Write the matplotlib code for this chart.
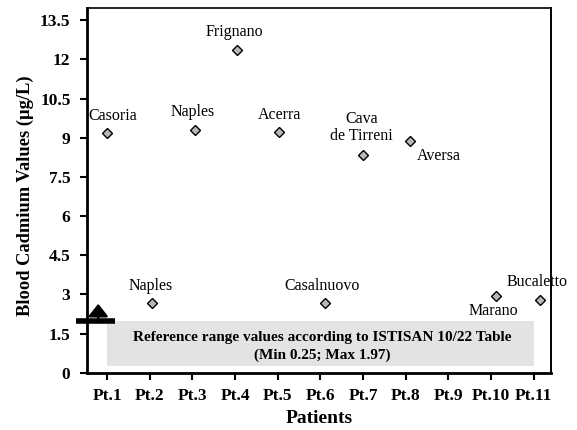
import matplotlib
matplotlib.use("Agg")
from matplotlib import pyplot as plt
from matplotlib.patches import Rectangle

plt.rcParams["font.family"] = ["Liberation Serif", "DejaVu Serif"]

# data
patients = ["Pt.1", "Pt.2", "Pt.3", "Pt.4", "Pt.5", "Pt.6", "Pt.7", "Pt.8", "Pt.9", "Pt.10", "Pt.11"]
point_x = [1.0, 2.05, 3.07, 4.05, 5.04, 6.1, 7.0, 8.1, 10.13, 11.15]
cadmium = [9.19, 2.67, 9.29, 12.36, 9.22, 2.67, 8.34, 8.87, 2.95, 2.80]
towns = ["Casoria", "Naples", "Naples", "Frignano", "Acerra", "Casalnuovo",
         "Cava\nde Tirreni", "Aversa", "Marano", "Bucaletto"]
# label offsets in points relative to each marker
label_offsets = [(4, 12), (-1, 12), (-2, 13), (-2, 13), (0, 12), (-2, 12),
                 (-1, 20), (21, -11), (-2, -11), (-2, 13)]
ref_min, ref_max = 0.25, 1.97
yticks = [0, 1.5, 3, 4.5, 6, 7.5, 9, 10.5, 12, 13.5]

fig = plt.figure(figsize=(5.77, 4.30), dpi=100)
ax = fig.add_axes([0.151, 0.133, 0.804, 0.848])

# reference range band
ax.add_patch(Rectangle((1, ref_min), 10, ref_max - ref_min, facecolor="#e3e3e3",
                       edgecolor="none", zorder=1))
ax.text(6.05, (ref_min + ref_max) / 2 - 0.1,
        "Reference range values according to ISTISAN 10/22 Table\n(Min 0.25; Max 1.97)",
        ha="center", va="center", fontsize=11, fontweight="bold", linespacing=1.5, zorder=2)

ax.plot(point_x, cadmium, linestyle="none", marker="D", markersize=5.5,
        markerfacecolor="#b8b8b8", markeredgecolor="black", markeredgewidth=1.0, zorder=3)

for x, y, name, (dx, dy) in zip(point_x, cadmium, towns, label_offsets):
    ax.annotate(name, (x, y), xytext=(dx, dy), textcoords="offset points",
                ha="center", va="center", fontsize=11.5, linespacing=1.1)

# upper limit marker (bar + arrow) left of the axis
ax.plot([0.27, 1.19], [ref_max, ref_max], color="black", lw=4, solid_capstyle="butt",
        clip_on=False, zorder=4)
ax.annotate("", xy=(0.79, 2.64), xytext=(0.79, ref_max), annotation_clip=False,
            arrowprops=dict(arrowstyle="-|>,head_width=0.6,head_length=0.75",
                            color="black", lw=1.8, shrinkA=0, shrinkB=0))

ax.set_xlim(0.53, 11.41)
ax.set_ylim(0, 13.96)
ax.set_xticks(range(1, 12))
ax.set_xticklabels(patients)
ax.set_yticks(yticks)
ax.set_yticklabels([f"{v:g}" for v in yticks])
ax.tick_params(direction="out", length=5, width=1.5, labelsize=12.5, colors="black")
ax.tick_params(axis="y", pad=7)
ax.tick_params(axis="x", pad=6)
for lab in ax.get_xticklabels() + ax.get_yticklabels():
    lab.set_fontweight("bold")

ax.set_xlabel("Patients", fontsize=14, fontweight="bold", labelpad=4)
ax.set_ylabel("Blood Cadmium Values (µg/L)", fontsize=13.3, fontweight="bold", labelpad=9)
ax.yaxis.set_label_coords(-0.115, 0.485)

ax.spines["left"].set_linewidth(2)
ax.spines["bottom"].set_linewidth(2)
ax.spines["top"].set_linewidth(1.2)
ax.spines["right"].set_linewidth(1.4)

fig.savefig("out.png", dpi=100)
